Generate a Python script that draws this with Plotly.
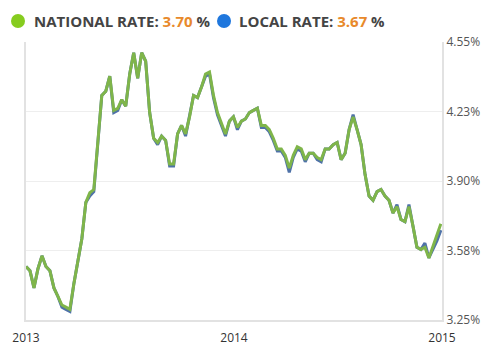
import pandas as pd
import plotly.graph_objects as go

start_date = "2013-01-01"
n_weeks = 105
national = [3.50, 3.48, 3.40, 3.49, 3.55, 3.50, 3.48, 3.40, 3.36, 3.32,
            3.31, 3.30, 3.42, 3.52, 3.63, 3.80, 3.845, 3.86, 4.09, 4.30,
            4.32, 4.39, 4.23, 4.24, 4.28, 4.25, 4.40, 4.50, 4.38, 4.50,
            4.46, 4.22, 4.10, 4.08, 4.11, 4.09, 3.98, 3.98, 4.12, 4.16,
            4.12, 4.20, 4.30, 4.29, 4.34, 4.40, 4.41, 4.30, 4.22, 4.17,
            4.12, 4.18, 4.20, 4.15, 4.18, 4.19, 4.22, 4.23, 4.24, 4.16,
            4.16, 4.14, 4.10, 4.05, 4.05, 4.02, 3.96, 4.02, 4.06, 4.05,
            4.00, 4.03, 4.03, 4.01, 4.00, 4.05, 4.05, 4.07, 4.08, 4.00,
            4.03, 4.14, 4.20, 4.14, 4.07, 3.93, 3.83, 3.81, 3.85, 3.86,
            3.83, 3.81, 3.75, 3.78, 3.72, 3.71, 3.78, 3.69, 3.59, 3.58,
            3.59, 3.54, 3.59, 3.64, 3.70]
local = [3.50, 3.48, 3.40, 3.49, 3.55, 3.50, 3.48, 3.40, 3.36, 3.31,
         3.30, 3.29, 3.42, 3.52, 3.63, 3.80, 3.83, 3.85, 4.09, 4.30,
         4.32, 4.39, 4.22, 4.23, 4.28, 4.25, 4.40, 4.50, 4.38, 4.50,
         4.46, 4.22, 4.10, 4.07, 4.11, 4.09, 3.97, 3.97, 4.12, 4.16,
         4.11, 4.20, 4.30, 4.29, 4.34, 4.39, 4.40, 4.29, 4.21, 4.16,
         4.11, 4.18, 4.20, 4.14, 4.18, 4.19, 4.22, 4.23, 4.24, 4.15,
         4.15, 4.13, 4.09, 4.04, 4.04, 4.01, 3.94, 4.01, 4.05, 4.04,
         3.99, 4.03, 4.03, 4.00, 3.99, 4.05, 4.05, 4.07, 4.08, 4.00,
         4.03, 4.14, 4.21, 4.14, 4.07, 3.93, 3.83, 3.81, 3.85, 3.86,
         3.83, 3.81, 3.75, 3.79, 3.72, 3.71, 3.79, 3.69, 3.59, 3.58,
         3.61, 3.54, 3.58, 3.62, 3.67]
y_ticks = [3.25, 3.575, 3.90, 4.225, 4.55]
y_tick_labels = ["3.25%", "3.58%", "3.90%", "4.23%", "4.55%"]
x_ticks = ["2013-01-01", "2014-01-01", "2015-01-01"]
x_tick_labels = ["2013", "2014", "2015"]
national_label = "NATIONAL RATE:"
local_label = "LOCAL RATE:"
national_current = "3.70"
local_current = "3.67"

dates = pd.date_range(start_date, periods=n_weeks, freq="7D")

fig = go.Figure()
fig.add_trace(go.Scatter(x=dates, y=local, mode="lines",
                         line=dict(color="#4f72a8", width=3), hoverinfo="skip"))
fig.add_trace(go.Scatter(x=dates, y=national, mode="lines",
                         line=dict(color="#7fb54a", width=3), hoverinfo="skip"))

fig.update_layout(
    width=478, height=343,
    margin=dict(l=18, r=44, t=34, b=31),
    paper_bgcolor="white", plot_bgcolor="white",
    showlegend=False,
    font=dict(family="Open Sans", color="#444"),
    xaxis=dict(range=["2013-01-01", "2015-01-01"], tickvals=x_ticks,
               ticktext=x_tick_labels, showgrid=False, zeroline=False,
               showline=True, linecolor="#e2e2e2", linewidth=2, mirror=False,
               tickfont=dict(size=12, color="#333"), ticks="", automargin=False,
               ticklabelstandoff=6),
    yaxis=dict(range=[3.25, 4.55], tickvals=y_ticks, ticktext=y_tick_labels,
               side="right", showgrid=True, gridcolor="#eeeeee", gridwidth=1,
               zeroline=False, showline=True, linecolor="#e2e2e2", linewidth=2,
               mirror=True, tickfont=dict(size=12, color="#555"), ticks="",
               automargin=False),
)

fig.add_annotation(xref="paper", yref="paper", x=0.0144, y=1.0755,
                   xanchor="left", yanchor="middle", showarrow=False,
                   text=f"<b>{national_label} <span style='color:#e8892b'>{national_current}</span> %</b>",
                   font=dict(family="Open Sans", size=15, color="#444"))
fig.add_annotation(xref="paper", yref="paper", x=0.507, y=1.0755,
                   xanchor="left", yanchor="middle", showarrow=False,
                   text=f"<b>{local_label} <span style='color:#e8892b'>{local_current}</span> %</b>",
                   font=dict(family="Open Sans", size=15, color="#444"))
for cx, col in [(-0.0192, "#86cc1f"), (0.476, "#1f77dd")]:
    fig.add_shape(type="circle", xref="paper", yref="paper",
                  xsizemode="pixel", ysizemode="pixel",
                  xanchor=cx, yanchor=1.0755,
                  x0=-7, x1=7, y0=-7, y1=7,
                  fillcolor=col, line=dict(width=0))

fig.write_html("out.html")
